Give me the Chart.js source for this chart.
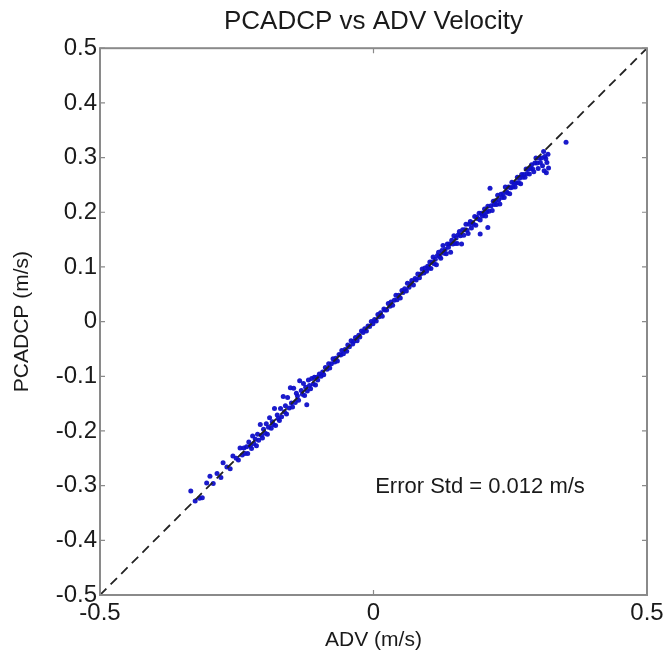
<!DOCTYPE html>
<html>
<head>
<meta charset="utf-8">
<script src="https://cdn.jsdelivr.net/npm/chart.js@4.4.1/dist/chart.umd.min.js"></script>
<style>
  html, body { margin: 0; padding: 0; background: #fff; }
  #wrap { width: 668px; height: 667px; }
</style>
</head>
<body>
<div id="wrap"><canvas id="myChart" width="668" height="667"></canvas></div>
<script>

// ADV velocity (m/s) and matching PCADCP velocity (m/s)
const advX = [
  -0.334, -0.326, -0.318, -0.313, -0.305, -0.299, -0.293, -0.286, -0.279, -0.275, -0.268, -0.262, -0.257, -0.251, -0.247, -0.244, -0.240, -0.237,
  -0.235, -0.232, -0.230, -0.228, -0.225, -0.223, -0.221, -0.219, -0.216, -0.214,
  -0.212, -0.210, -0.207, -0.205, -0.203, -0.201, -0.198, -0.196, -0.194, -0.192,
  -0.190, -0.187, -0.185, -0.183, -0.181, -0.179, -0.176, -0.174, -0.172, -0.170,
  -0.168, -0.165, -0.163, -0.161, -0.159, -0.157, -0.154, -0.152, -0.150, -0.148,
  -0.146, -0.143, -0.141, -0.139, -0.137, -0.135, -0.132, -0.130, -0.128, -0.126,
  -0.124, -0.121, -0.119, -0.117, -0.115, -0.113, -0.110, -0.108, -0.106, -0.104, -0.102,
  -0.099, -0.096, -0.093, -0.091, -0.088, -0.085, -0.082, -0.080, -0.077, -0.074, -0.071, -0.069,
  -0.066, -0.063, -0.060, -0.058, -0.055, -0.052, -0.049, -0.047, -0.044, -0.041, -0.038, -0.036,
  -0.033, -0.030, -0.027, -0.025, -0.022, -0.019, -0.016, -0.013, -0.010, -0.007, -0.004, -0.001,
  0.002, 0.005, 0.008, 0.010, 0.013, 0.016, 0.019, 0.021, 0.024, 0.027, 0.030, 0.032,
  0.035, 0.038, 0.041, 0.043, 0.046, 0.049, 0.052, 0.054, 0.057, 0.060, 0.062, 0.065,
  0.068, 0.070, 0.073, 0.076, 0.078, 0.081, 0.084, 0.086, 0.089, 0.092, 0.094, 0.097, 0.099,
  0.101, 0.103, 0.105, 0.107, 0.109, 0.111, 0.113, 0.115, 0.117, 0.119,
  0.121, 0.123, 0.125, 0.127, 0.129, 0.131, 0.133, 0.135, 0.137, 0.139,
  0.141, 0.143, 0.145, 0.147, 0.149, 0.151, 0.153, 0.155, 0.157, 0.159,
  0.161, 0.163, 0.165, 0.167, 0.169, 0.171, 0.173, 0.175, 0.177, 0.179,
  0.181, 0.183, 0.185, 0.187, 0.189, 0.191, 0.193, 0.195, 0.197, 0.199,
  0.201, 0.203, 0.205, 0.207, 0.209, 0.211, 0.213, 0.215, 0.217, 0.219,
  0.221, 0.223, 0.225, 0.227, 0.229, 0.231, 0.233, 0.235, 0.237, 0.239,
  0.241, 0.243, 0.245, 0.247, 0.249, 0.251, 0.253, 0.255, 0.257, 0.259,
  0.261, 0.263, 0.265, 0.267, 0.269, 0.271, 0.273, 0.275, 0.277, 0.279,
  0.281, 0.283, 0.285, 0.287, 0.289, 0.291, 0.293, 0.295, 0.297, 0.299,
  0.301, 0.303, 0.305, 0.307, 0.309, 0.311, 0.313, 0.315, 0.317, 0.319,
  0.352, 0.209, 0.195, -0.122, 0.316, 0.312, 0.320
];

const pcadcpY = [
  -0.310, -0.328, -0.323, -0.322, -0.295, -0.283, -0.296, -0.278, -0.285, -0.258, -0.266, -0.269, -0.246, -0.250, -0.253, -0.231, -0.244, -0.231,
  -0.241, -0.229, -0.241, -0.220, -0.227, -0.232, -0.209, -0.223, -0.215, -0.227,
  -0.206, -0.217, -0.188, -0.208, -0.213, -0.197, -0.204, -0.187, -0.206, -0.193,
  -0.176, -0.195, -0.183, -0.188, -0.159, -0.190, -0.171, -0.177, -0.181, -0.159,
  -0.174, -0.137, -0.165, -0.154, -0.169, -0.139, -0.158, -0.121, -0.149, -0.156,
  -0.122, -0.148, -0.131, -0.136, -0.144, -0.108, -0.126, -0.133, -0.113, -0.135,
  -0.120, -0.127, -0.107, -0.117, -0.123, -0.104, -0.114, -0.102, -0.116, -0.102, -0.107,
  -0.096, -0.100, -0.092, -0.097, -0.084, -0.087, -0.077, -0.085, -0.077, -0.068, -0.074, -0.067,
  -0.072, -0.060, -0.061, -0.053, -0.059, -0.051, -0.054, -0.043, -0.046, -0.035, -0.041, -0.036,
  -0.029, -0.035, -0.025, -0.028, -0.017, -0.020, -0.013, -0.017, -0.008, -0.009, 0.000, -0.004,
  0.004, 0.001, 0.013, 0.009, 0.016, 0.010, 0.023, 0.021, 0.021, 0.033, 0.028, 0.036,
  0.030, 0.039, 0.048, 0.040, 0.048, 0.043, 0.057, 0.053, 0.060, 0.056, 0.070, 0.063,
  0.069, 0.075, 0.067, 0.079, 0.076, 0.087, 0.080, 0.087, 0.096, 0.089, 0.098, 0.092, 0.101,
  0.098, 0.109, 0.097, 0.109, 0.118, 0.106, 0.114, 0.104, 0.121, 0.127,
  0.119, 0.116, 0.130, 0.139, 0.125, 0.132, 0.124, 0.142, 0.136, 0.142,
  0.127, 0.149, 0.142, 0.157, 0.143, 0.153, 0.143, 0.159, 0.165, 0.157,
  0.142, 0.168, 0.158, 0.168, 0.178, 0.167, 0.161, 0.178, 0.183, 0.171,
  0.181, 0.178, 0.192, 0.176, 0.191, 0.188, 0.198, 0.186, 0.198, 0.193,
  0.197, 0.206, 0.193, 0.201, 0.211, 0.202, 0.244, 0.212, 0.203, 0.220,
  0.214, 0.221, 0.214, 0.231, 0.223, 0.215, 0.233, 0.227, 0.234, 0.227,
  0.246, 0.238, 0.235, 0.246, 0.234, 0.245, 0.255, 0.246, 0.253, 0.246,
  0.254, 0.264, 0.254, 0.262, 0.252, 0.269, 0.264, 0.269, 0.264, 0.279,
  0.271, 0.279, 0.270, 0.280, 0.287, 0.279, 0.274, 0.290, 0.299, 0.290,
  0.280, 0.299, 0.291, 0.299, 0.285, 0.311, 0.302, 0.298, 0.291, 0.306,
  0.328, 0.172, 0.160, -0.152, 0.272, 0.276, 0.281
];

// 1:1 reference line
const refX = [-0.5, 0.5];
const refY = [-0.5, 0.5];

const errorText = 'Error Std = 0.012 m/s';
const fontFamily = 'Liberation Sans, Arial, sans-serif';
const tickFont = { family: fontFamily, size: 24 };
const labelFont = { family: fontFamily, size: 21 };

const points = advX.map((x, i) => ({ x: x, y: pcadcpY[i] }));
const refLine = refX.map((x, i) => ({ x: x, y: refY[i] }));

// box around the axes, inward tick marks and the error note
const matlabBox = {
    id: 'matlabBox',
    afterDatasetsDraw(chart) {
        const { ctx, chartArea: a, scales } = chart;
        ctx.save();
        ctx.strokeStyle = '#8a8a8a';
        ctx.lineWidth = 2;
        ctx.strokeRect(a.left, a.top, a.right - a.left, a.bottom - a.top);

        ctx.lineWidth = 1.2;
        ctx.beginPath();
        scales.y.ticks.forEach(t => {
            const py = scales.y.getPixelForValue(t.value);
            ctx.moveTo(a.left, py); ctx.lineTo(a.left + 5, py);
            ctx.moveTo(a.right, py); ctx.lineTo(a.right - 5, py);
        });
        scales.x.ticks.forEach(t => {
            const px = scales.x.getPixelForValue(t.value);
            ctx.moveTo(px, a.bottom); ctx.lineTo(px, a.bottom - 5);
            ctx.moveTo(px, a.top); ctx.lineTo(px, a.top + 5);
        });
        ctx.stroke();

        ctx.fillStyle = '#1a1a1a';
        ctx.font = '22px ' + fontFamily;
        ctx.textBaseline = 'middle';
        ctx.fillText(errorText, scales.x.getPixelForValue(0.003), scales.y.getPixelForValue(-0.3026));
        ctx.restore();
    }
};

new Chart(document.getElementById('myChart'), {
    type: 'scatter',
    data: {
        datasets: [
            {
                label: 'PCADCP vs ADV',
                data: points,
                backgroundColor: 'rgba(15, 15, 200, 0.95)',
                borderWidth: 0,
                pointRadius: 2.5,
                order: 2,
            },
            {
                label: '1:1',
                type: 'line',
                data: refLine,
                borderColor: '#222',
                borderWidth: 1.8,
                borderDash: [9, 6],
                pointRadius: 0,
                fill: false,
                order: 1,
            }
        ]
    },
    options: {
        responsive: false,
        animation: false,
        layout: { padding: { left: 0, right: 21, top: 0, bottom: 0 } },
        plugins: {
            legend: { display: false },
            tooltip: { enabled: false },
            title: {
                display: true,
                fullSize: false,
                text: 'PCADCP vs ADV Velocity',
                color: '#1a1a1a',
                font: { family: fontFamily, size: 26, weight: 'normal' },
                padding: { top: 6, bottom: 11 },
            }
        },
        scales: {
            x: {
                type: 'linear',
                min: -0.5,
                max: 0.5,
                afterFit: s => { s.height = 72; },
                grid: { display: false, drawTicks: false },
                border: { display: false },
                ticks: {
                    stepSize: 0.5,
                    color: '#1a1a1a',
                    font: tickFont,
                    padding: 4,
                    maxRotation: 0,
                    callback: v => Number(v.toFixed(1)).toString(),
                },
                title: {
                    display: true,
                    text: 'ADV (m/s)',
                    color: '#1a1a1a',
                    font: labelFont,
                    padding: { top: 0, bottom: 14 },
                }
            },
            y: {
                type: 'linear',
                min: -0.5,
                max: 0.5,
                afterFit: s => { s.width = 100; },
                grid: { display: false, drawTicks: false },
                border: { display: false },
                ticks: {
                    stepSize: 0.1,
                    color: '#1a1a1a',
                    font: tickFont,
                    padding: 3,
                    callback: v => Number(v.toFixed(1)).toString(),
                },
                title: {
                    display: true,
                    text: 'PCADCP (m/s)',
                    color: '#1a1a1a',
                    font: labelFont,
                    padding: { top: 10, bottom: 0 },
                }
            }
        }
    },
    plugins: [matlabBox]
});
</script>
</body>
</html>
